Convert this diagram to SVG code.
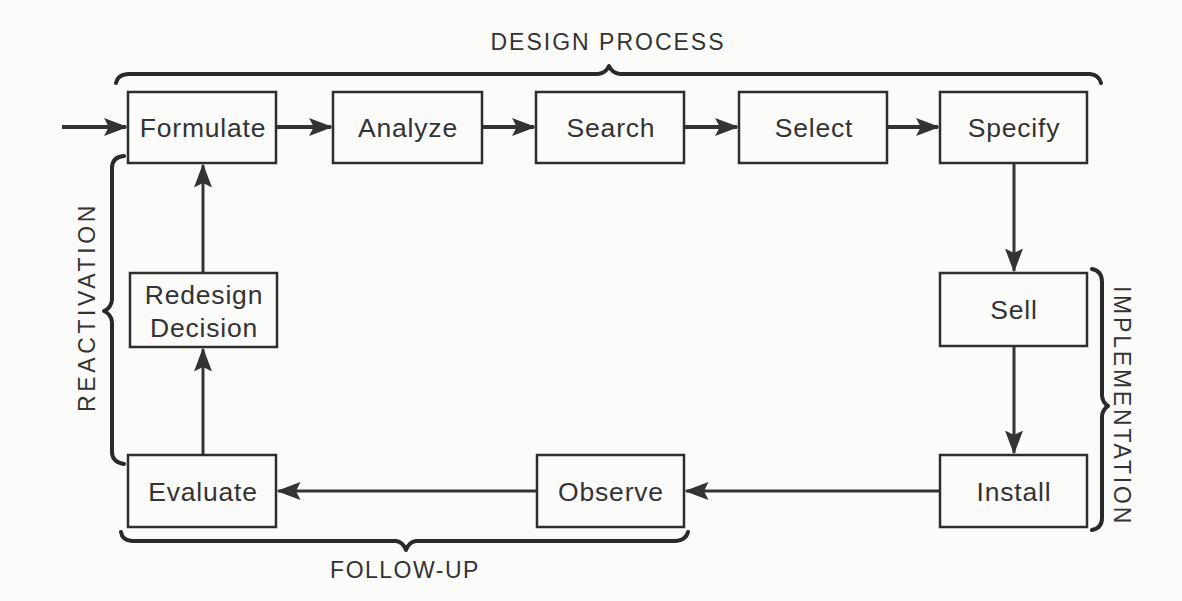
<svg xmlns="http://www.w3.org/2000/svg" width="1182" height="601" viewBox="0 0 1182 601">
<style>
.box{fill:none;stroke:#2e2e2e;stroke-width:2.5}
.lbl{font-family:"Liberation Sans",Arial,sans-serif;font-size:26.5px;letter-spacing:0.8px;fill:#333;text-anchor:middle;dominant-baseline:central}
.title{font-family:"Liberation Sans",Arial,sans-serif;font-size:23px;fill:#333;text-anchor:middle;dominant-baseline:central}
.conn{fill:none;stroke:#333;stroke-width:3}
.thick{stroke-width:4}
.brace{fill:none;stroke:#2a2a2a;stroke-width:4;stroke-linejoin:round;stroke-linecap:round}
</style>
<defs>
<marker id="ah" markerWidth="8" markerHeight="6" refX="7.5" refY="3" orient="auto" markerUnits="strokeWidth">
<path d="M0,0 L8,3 L0,6 L1.5,3 z" fill="#333"/>
</marker>
<marker id="ah2" markerWidth="6" markerHeight="4.5" refX="5.5" refY="2.25" orient="auto" markerUnits="strokeWidth">
<path d="M0,0 L6,2.25 L0,4.5 L1.2,2.25 z" fill="#333"/>
</marker>
</defs>
<rect width="1182" height="601" fill="#fbfbfa"/>

<g id="braces">
<path class="brace" d="M116,83 Q117,75 128,74 L598,74 Q606,73 609,66 Q612,73 620,74 L1090,74 Q1099,75 1101,83"/>
<text class="title" x="608" y="42" letter-spacing="2">DESIGN PROCESS</text>
<path class="brace" d="M124,156 Q112,157 112,168 L112,300 Q111,308 104,311 Q111,314 112,322 L112,452 Q112,462 124,464"/>
<text class="title" transform="translate(87,307) rotate(-90)" font-size="24" letter-spacing="3.6">REACTIVATION</text>
<path class="brace" d="M1092,269 Q1102,271 1102,282 L1102,396 Q1103,403 1108,406 Q1103,409 1102,416 L1102,518 Q1102,528 1092,530"/>
<text class="title" transform="translate(1122,406) rotate(90)" font-size="24" letter-spacing="2.8">IMPLEMENTATION</text>
<path class="brace" d="M121,532 Q122,540 132,541 L396,541 Q403,542 406,550 Q409,542 416,541 L676,541 Q686,540 688,532"/>
<text class="title" x="405" y="570" letter-spacing="1.5">FOLLOW-UP</text>
</g>

<g id="connectors">
<line class="conn thick" x1="62" y1="127" x2="126" y2="127" marker-end="url(#ah2)"/>
<line class="conn thick" x1="277" y1="127" x2="331" y2="127" marker-end="url(#ah2)"/>
<line class="conn thick" x1="483" y1="127" x2="534" y2="127" marker-end="url(#ah2)"/>
<line class="conn thick" x1="685" y1="127" x2="737" y2="127" marker-end="url(#ah2)"/>
<line class="conn thick" x1="888" y1="127" x2="938" y2="127" marker-end="url(#ah2)"/>
<line class="conn" x1="1014" y1="164" x2="1014" y2="271" marker-end="url(#ah)"/>
<line class="conn" x1="1014" y1="347" x2="1014" y2="453" marker-end="url(#ah)"/>
<line class="conn" x1="939" y1="491" x2="686" y2="491" marker-end="url(#ah)"/>
<line class="conn" x1="536" y1="491" x2="278" y2="491" marker-end="url(#ah)"/>
<line class="conn" x1="203" y1="454" x2="203" y2="349" marker-end="url(#ah)"/>
<line class="conn" x1="203" y1="272" x2="203" y2="165" marker-end="url(#ah)"/>
</g>

<g id="formulate"><rect class="box" x="128" y="92" width="148" height="71"/><text class="lbl" x="203" y="128">Formulate</text></g>
<g id="analyze"><rect class="box" x="333" y="92" width="149" height="71"/><text class="lbl" x="408" y="128">Analyze</text></g>
<g id="search"><rect class="box" x="536" y="92" width="148" height="71"/><text class="lbl" x="611" y="128">Search</text></g>
<g id="select"><rect class="box" x="739" y="92" width="148" height="71"/><text class="lbl" x="814" y="128">Select</text></g>
<g id="specify"><rect class="box" x="940" y="92" width="147" height="71"/><text class="lbl" x="1014" y="128">Specify</text></g>
<g id="sell"><rect class="box" x="940" y="273" width="147" height="73"/><text class="lbl" x="1014" y="310">Sell</text></g>
<g id="install"><rect class="box" x="940" y="455" width="147" height="72"/><text class="lbl" x="1014" y="492">Install</text></g>
<g id="observe"><rect class="box" x="537" y="455" width="147" height="72"/><text class="lbl" x="611" y="492">Observe</text></g>
<g id="evaluate"><rect class="box" x="128" y="455" width="148" height="72"/><text class="lbl" x="203" y="492">Evaluate</text></g>
<g id="redesign"><rect class="box" x="130" y="273" width="147" height="74"/><text class="lbl" x="204" y="295">Redesign</text><text class="lbl" x="204" y="328">Decision</text></g>
</svg>
